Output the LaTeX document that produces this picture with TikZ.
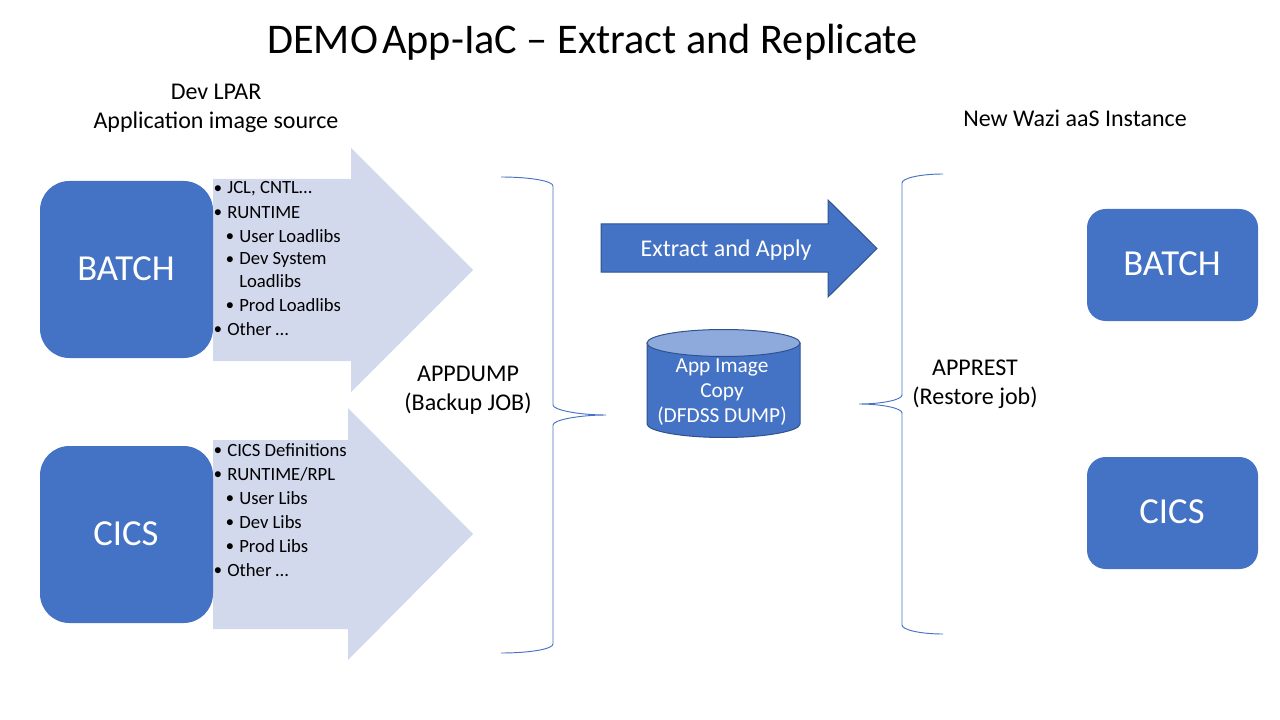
\documentclass[tikz,border=0pt]{standalone}
\usepackage{fontspec}
\setmainfont{Carlito}
\tikzset{every picture/.style={line width=0.75pt}}
\definecolor{boxblue}{RGB}{68,114,196}
\definecolor{edgeblue}{RGB}{47,82,143}
\definecolor{paleblue}{RGB}{211,217,236}
\definecolor{topblue}{RGB}{142,169,219}
\tikzset{
  boxtext/.style={text=white,font=\fontsize{27.5}{32}\selectfont},
  itemtext/.style={anchor=west,inner sep=0pt,font=\fontsize{14}{16}\selectfont},
  labeltext/.style={align=center,font=\fontsize{18}{21.5}\selectfont},
  brace/.style={draw=boxblue,line width=0.7pt}
}
\newcommand{\itembullet}{\makebox[9.6pt][l]{\hspace{-0.2pt}\raisebox{0.08em}{\scalebox{0.8}{$\bullet$}}}}
\begin{document}
\begin{tikzpicture}[x=0.75pt,y=0.75pt,yscale=-1,xscale=1]
	\useasboundingbox (0,0) rectangle (1280,720);

	%Shape: Right Arrow pale
	\fill [paleblue] (213,179) -- (351,179) -- (351,148) -- (473,270) -- (351,392) -- (351,361) -- (213,361) -- cycle ;
	\fill [paleblue] (213,440) -- (348,440) -- (348,408) -- (473,534) -- (348,660) -- (348,629) -- (213,629) -- cycle ;

	%Shape: Rounded Rectangle
	\fill [boxblue,rounded corners=22] (40,181) rectangle (213,358) ;
	\fill [boxblue,rounded corners=22] (40,446) rectangle (213,623) ;
	\fill [boxblue,rounded corners=14] (1087,209) rectangle (1258,321) ;
	\fill [boxblue,rounded corners=14] (1087,457) rectangle (1258,569) ;

	%Shape: Right Arrow
	\draw [edgeblue,fill=boxblue] (601,224) -- (828,224) -- (828,200) -- (877,248.5) -- (828,297) -- (828,272) -- (601,272) -- cycle ;

	%Shape: Can
	\draw [edgeblue,fill=boxblue] (647,343) -- (647,424) .. controls (647,431) and (681,437.5) .. (723.5,437.5) .. controls (766,437.5) and (800,431) .. (800,424) -- (800,343) -- cycle ;
	\draw [edgeblue,fill=topblue] (723.5,343) ellipse [x radius=76.5,y radius=13.5] ;

	%Shape: Left Brace
	\draw [brace] (501,177) .. controls (530,177) and (553,181) .. (553,186) -- (553,405) .. controls (553,410) and (579,415) .. (606,415) .. controls (579,415) and (553,420) .. (553,425) -- (553,644) .. controls (553,649) and (530,653) .. (501,653) ;
	%Shape: Right Brace
	\draw [brace] (943,174) .. controls (921,174) and (902,178) .. (902,183) -- (902,395) .. controls (902,400) and (881,404) .. (859,404) .. controls (881,404) and (902,408) .. (902,413) -- (902,625) .. controls (902,630) and (921,634) .. (943,634) ;

	% Text Node
	\node [font=\fontsize{31.7}{38}\selectfont] (title) at (592.5,42.5) {DEMO\hspace{0.1em}App-IaC – Extract and Replicate};
	% Text Node
	\node [labeltext] (devlpar) at (216,108.5) {Dev LPAR\\Application image source};
	% Text Node
	\node [labeltext] (wazi) at (1075,118) {New Wazi aaS Instance};
	% Text Node
	\node [labeltext] (appdump) at (468,390.5) {APPDUMP\\(Backup JOB)};
	% Text Node
	\node [labeltext] (apprest) at (975,384) {APPREST\\(Restore job)};
	% Text Node
	\node [boxtext] (batchl) at (126,269) {BATCH};
	\node [boxtext] (cicsl) at (126,534) {CICS};
	\node [boxtext] (batchr) at (1172,264) {BATCH};
	\node [boxtext] (cicsr) at (1172,512) {CICS};
	% Text Node
	\node [labeltext,text=white] (extract) at (726,250) {Extract and Apply};
	% Text Node
	\node [align=center,text=white,font=\fontsize{16}{19}\selectfont] (appimage) at (722,392) {App Image\\Copy\\(DFDSS DUMP)};

	% Bullet lists
	\node [itemtext] (b1) at (214,189) {\itembullet JCL, CNTL…};
	\node [itemtext] (b2) at (214,212.5) {\itembullet RUNTIME};
	\node [itemtext] (b3) at (226,236) {\itembullet User Loadlibs};
	\node [itemtext] (b4) at (226,260) {\itembullet Dev System};
	\node [itemtext] (b5) at (238.8,281) {Loadlibs};
	\node [itemtext] (b6) at (226,305) {\itembullet Prod Loadlibs};
	\node [itemtext] (b7) at (214,329) {\itembullet Other …};

	\node [itemtext] (c1) at (214,450) {\itembullet CICS Definitions};
	\node [itemtext] (c2) at (214,474) {\itembullet RUNTIME/RPL};
	\node [itemtext] (c3) at (226,498) {\itembullet User Libs};
	\node [itemtext] (c4) at (226,522) {\itembullet Dev Libs};
	\node [itemtext] (c5) at (226,546) {\itembullet Prod Libs};
	\node [itemtext] (c6) at (214,570) {\itembullet Other …};

	\end{tikzpicture}
\end{document}
